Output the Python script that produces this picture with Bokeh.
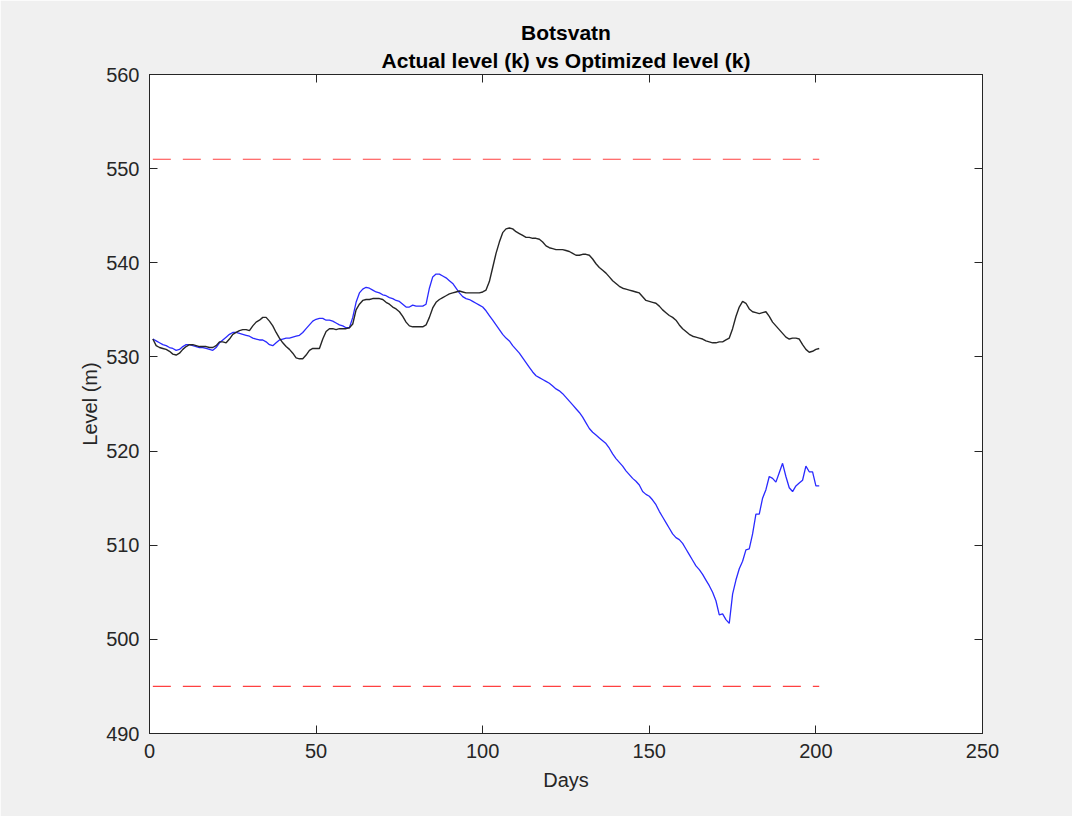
from bokeh.plotting import figure
from bokeh.models import LinearAxis, Title, Range1d, FixedTicker
from bokeh.embed import file_html
from bokeh.resources import INLINE

title_main = "Botsvatn"
title_sub = "Actual level (k) vs Optimized level (k)"
x_label = "Days"
y_label = "Level (m)"
x_ticks = [0, 50, 100, 150, 200, 250]
y_ticks = [490, 500, 510, 520, 530, 540, 550, 560]

days = list(range(1, 202))

actual_level = [
    531.9, 531.2, 531.0, 530.9, 530.8, 530.6, 530.3, 530.2, 530.4, 530.8,
    531.1, 531.3, 531.3, 531.2, 531.1, 531.1, 531.1, 531.0, 531.0, 531.2,
    531.6, 531.6, 531.5, 531.9, 532.4, 532.6, 532.8, 532.9, 532.9, 532.8,
    533.3, 533.7, 533.9, 534.2, 534.2, 533.8, 533.3, 532.6, 532.0, 531.5,
    531.1, 530.8, 530.4, 529.9, 529.8, 529.8, 530.2, 530.7, 530.9, 530.9,
    530.9, 531.9, 532.7, 533.0, 533.0, 532.9, 533.0, 533.0, 533.0, 533.1,
    533.5, 535.0, 535.6, 536.0, 536.1, 536.1, 536.2, 536.2, 536.2, 536.1,
    535.8, 535.6, 535.3, 535.1, 534.8, 534.3, 533.7, 533.3, 533.2, 533.2,
    533.2, 533.2, 533.4, 534.2, 535.2, 535.8, 536.1, 536.3, 536.5, 536.7,
    536.8, 536.9, 537.0, 536.9, 536.8, 536.8, 536.8, 536.8, 536.8, 536.9,
    537.1, 538.0, 539.5, 541.0, 542.2, 543.2, 543.6, 543.7, 543.6, 543.3,
    543.1, 542.9, 542.7, 542.7, 542.6, 542.6, 542.5, 542.2, 541.8, 541.6,
    541.5, 541.4, 541.4, 541.4, 541.3, 541.2, 541.0, 540.8, 540.8, 540.9,
    540.9, 540.8, 540.4, 539.9, 539.5, 539.2, 538.9, 538.5, 538.1, 537.8,
    537.5, 537.3, 537.2, 537.1, 537.0, 536.9, 536.8, 536.4, 536.0, 535.9,
    535.8, 535.7, 535.4, 535.0, 534.7, 534.4, 534.2, 533.9, 533.4, 533.0,
    532.7, 532.4, 532.2, 532.1, 532.0, 531.9, 531.7, 531.6, 531.5, 531.5,
    531.6, 531.6, 531.8, 532.0, 533.0, 534.3, 535.3, 535.9, 535.7, 535.1,
    534.8, 534.7, 534.6, 534.7, 534.8, 534.3, 533.7, 533.3, 532.9, 532.5,
    532.1, 531.9, 532.0, 532.0, 531.9, 531.3, 530.8, 530.5, 530.6, 530.8,
    530.9,
]

optimized_level = [
    531.9, 531.7, 531.5, 531.3, 531.2, 531.0, 530.9, 530.7, 530.8, 531.1,
    531.3, 531.3, 531.2, 531.1, 531.0, 531.0, 530.9, 530.8, 530.7, 531.0,
    531.5, 531.8, 532.1, 532.4, 532.6, 532.6, 532.5, 532.4, 532.3, 532.2,
    532.0, 531.9, 531.8, 531.8, 531.6, 531.3, 531.2, 531.5, 531.8, 531.9,
    532.0, 532.0, 532.1, 532.2, 532.3, 532.6, 533.0, 533.4, 533.8, 534.0,
    534.1, 534.1, 533.9, 533.9, 533.8, 533.6, 533.4, 533.3, 533.1, 533.1,
    534.2, 535.8, 536.8, 537.2, 537.4, 537.3, 537.1, 536.9, 536.8, 536.6,
    536.5, 536.3, 536.2, 536.0, 535.9, 535.6, 535.3, 535.3, 535.5, 535.4,
    535.4, 535.4, 535.6, 537.3, 538.5, 538.8, 538.8, 538.6, 538.4, 538.1,
    537.8, 537.3, 536.8, 536.4, 536.2, 536.1, 535.9, 535.7, 535.5, 535.3,
    534.9, 534.4, 533.9, 533.4, 532.9, 532.4, 532.0, 531.7, 531.2, 530.8,
    530.4, 529.9, 529.4, 528.9, 528.4, 528.0, 527.8, 527.6, 527.4, 527.2,
    526.9, 526.6, 526.4, 526.1, 525.7, 525.3, 524.9, 524.5, 524.1, 523.6,
    523.0, 522.4, 522.0, 521.7, 521.4, 521.1, 520.8, 520.3, 519.7, 519.2,
    518.8, 518.4, 517.9, 517.5, 517.1, 516.8, 516.4, 515.7, 515.4, 515.2,
    514.8, 514.3, 513.6, 513.0, 512.4, 511.8, 511.2, 510.8, 510.6, 510.2,
    509.6, 509.0, 508.4, 507.8, 507.4, 506.9, 506.3, 505.7, 505.0, 504.1,
    502.6, 502.7, 502.1, 501.7, 504.8, 506.3, 507.5, 508.3, 509.5, 509.6,
    511.2, 513.3, 513.3, 515.0, 515.9, 517.3, 517.1, 516.7, 517.7, 518.7,
    517.3, 516.1, 515.7, 516.3, 516.6, 516.9, 518.4, 517.8, 517.8, 516.3,
    516.3,
]

upper_limit = 551
lower_limit = 495

FONT = "Liberation Sans"
AX = "#262626"

p = figure(
    width=1072, height=816,
    x_range=Range1d(0, 250), y_range=Range1d(490, 560),
    output_backend="svg", toolbar_location=None, title=None,
    min_border_left=149, min_border_right=90, min_border_top=74, min_border_bottom=83,
)
p.background_fill_color = "white"
p.border_fill_color = "#f0f0f0"
p.outline_line_color = AX
p.outline_line_width = 1
p.xgrid.visible = False
p.ygrid.visible = False

for ax in p.xaxis:
    ax.ticker = FixedTicker(ticks=x_ticks)
    ax.axis_label = x_label
for ax in p.yaxis:
    ax.ticker = FixedTicker(ticks=y_ticks)
    ax.axis_label = y_label

def common(ax):
    ax.axis_line_color = AX
    ax.major_tick_line_color = AX
    ax.major_tick_in = 8
    ax.major_tick_out = 0
    ax.minor_tick_line_color = None
    ax.major_label_text_font = FONT
    ax.major_label_text_font_size = "20px"
    ax.major_label_text_color = AX
    ax.axis_label_text_font = FONT
    ax.axis_label_text_font_size = "20px"
    ax.axis_label_text_font_style = "normal"
    ax.axis_label_text_color = AX

for ax in p.xaxis + p.yaxis:
    common(ax)
p.xaxis[0].major_label_standoff = 10
p.xaxis[0].axis_label_standoff = 8
p.yaxis[0].major_label_standoff = 10
p.yaxis[0].axis_label_standoff = 2

top_axis = LinearAxis(ticker=FixedTicker(ticks=x_ticks))
right_axis = LinearAxis(ticker=FixedTicker(ticks=y_ticks))
for ax in (top_axis, right_axis):
    common(ax)
    ax.major_label_text_font_size = "0px"
    ax.major_label_standoff = 0
    ax.major_label_text_color = None
p.add_layout(top_axis, "above")
p.add_layout(right_axis, "right")

t2 = Title(text=title_sub, align="center", text_font=FONT, text_font_size="21px",
           text_font_style="bold", text_color="black", standoff=5, offset=0)
t1 = Title(text=title_main, align="center", text_font=FONT, text_font_size="21px",
           text_font_style="bold", text_color="black", standoff=2, offset=0)
p.add_layout(t2, "above")
p.add_layout(t1, "above")

p.line(days, [upper_limit] * len(days), line_color="#ff4040", line_width=1.2, line_dash="18 12")
p.line(days, [lower_limit] * len(days), line_color="#ff4040", line_width=1.2, line_dash="18 12")
p.line(days, optimized_level, line_color="#2a2aff", line_width=1.3)
p.line(days, actual_level, line_color="#262626", line_width=1.4)

open("out.html", "w").write(file_html(p, INLINE))
